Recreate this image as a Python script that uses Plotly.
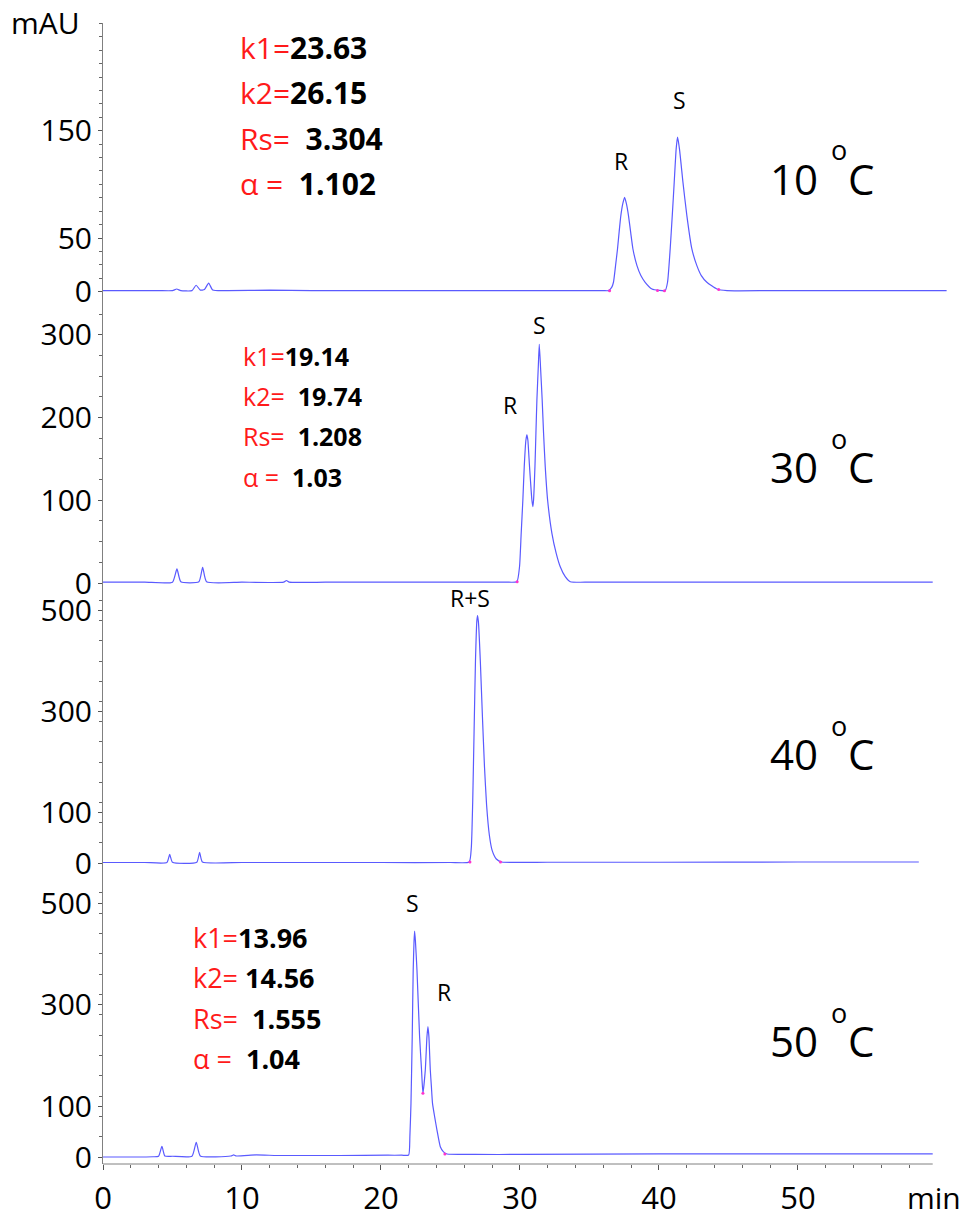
import plotly.graph_objects as go

# ---------------- data (time in min, absorbance in mAU) ----------------
t_10 = [0, 2, 4, 5.0, 5.3, 5.6, 6.4, 6.7, 7.0, 7.3, 7.6, 7.9, 9, 12, 15, 20, 25, 30, 33, 36.0,
        36.37, 36.6, 36.73, 36.88, 37.02, 37.14, 37.26, 37.4, 37.53, 37.66, 37.81, 37.97,
        38.13, 38.42, 38.7, 39.01, 39.5, 40.0,
        40.45, 40.62, 40.81, 40.96, 41.1, 41.24, 41.34, 41.48, 41.73, 42.01, 42.37, 42.73,
        43.05, 43.45, 44.17, 44.9, 48, 52, 56, 60.7]
a_10 = [1, 1, 1, 1, 2.5, 1, 1, 6, 1.5, 2, 8, 1.5, 1, 1.5, 1, 1, 1, 1, 1, 1,
        1, 4, 8.8, 24.3, 39.8, 56, 70.9, 82, 88, 82, 70.9, 55,
        39.8, 24.3, 15, 8.8, 2.5, 1.2,
        1, 8.8, 39.8, 70.9, 101.9, 132.9, 144, 132.9, 101.9, 70.9, 39.8, 24.3,
        15, 8.8, 2.5, 1, 1, 1, 1, 1]

t_30 = [0, 3, 5.0, 5.32, 5.6, 6.9, 7.17, 7.45, 10, 13.0, 13.2, 13.4, 16, 20, 25, 29.0,
        29.78, 29.97, 30.09, 30.21, 30.31, 30.43, 30.50, 30.57, 30.69, 30.86, 30.93, 30.98,
        31.08, 31.15, 31.22, 31.32, 31.39, 31.48, 31.60, 31.70, 31.82, 31.99, 32.30, 32.61,
        32.90, 33.26, 33.62, 35, 40, 45, 50, 55, 59.7]
a_30 = [1, 1, 1, 17, 1.5, 1.5, 19, 1.5, 1, 1, 3, 1, 1, 1, 1, 1,
        1.6, 19.7, 60.1, 100.4, 140.7, 172.9, 179, 172.9, 140.7, 100.4, 92.3, 100.4,
        140.7, 181, 221.3, 261.6, 288.6, 261.6, 221.3, 181, 140.7, 100.4, 60.1, 35.9,
        19.7, 7.7, 1.6, 1, 1, 1, 1, 1, 1]

t_40 = [0, 3, 4.6, 4.8, 5.0, 6.75, 6.95, 7.15, 10, 15, 20, 25, 26.35, 26.5, 26.6, 26.7,
        26.8, 26.9, 26.95, 27.02, 27.15, 27.3, 27.45, 27.6, 27.8, 28.0, 28.3, 28.7, 32, 40,
        50, 58.7]
a_40 = [1, 1, 1, 17, 1.5, 1.5, 21, 2, 1, 1, 1, 1, 2, 30, 120, 260,
        400, 480, 490, 475, 400, 290, 190, 115, 55, 25, 8, 2, 1.5, 1.5,
        2, 2]

t_50 = [0, 2, 3.6, 4.0, 4.24, 4.45, 5.0, 6.4, 6.71, 7.0, 9.2, 9.4, 9.6, 11.0, 12.5, 14, 17,
        20.5, 21.5, 21.99, 22.08, 22.16, 22.25, 22.32, 22.38, 22.42, 22.48, 22.59, 22.78, 22.92,
        23.02, 23.19, 23.31, 23.38, 23.45, 23.55, 23.63, 23.71, 23.87, 24.03, 24.27, 24.5,
        24.75, 26.8, 30, 40, 50, 59.7]
a_50 = [0, 0, 0.5, 1.5, 21, 2, 1.5, 1.5, 29, 2, 2, 4, 2, 4, 3, 3, 3,
        3.5, 3.5, 3.9, 40, 105.6, 236.9, 368.1, 425, 444.9, 425, 368.1, 236.9, 171.3,
        125.3, 171.3, 236.9, 256.6, 236.9, 171.3, 138, 105.6, 78, 53.1, 20.3, 10,
        5.9, 5, 5, 6, 6, 6]

# integration marks (magenta)
mark_t_10 = [36.45, 39.9, 40.4, 44.3]
mark_a_10 = [1, 1.2, 1, 2]
mark_t_30 = [29.8]
mark_a_30 = [1.6]
mark_t_40 = [26.4, 28.6]
mark_a_40 = [2, 2]
mark_t_50 = [23.02, 24.6]
mark_a_50 = [125.3, 6]

temps = ["10", "30", "40", "50"]
y_tickvals = [[0, 50, 150], [0, 100, 200, 300], [0, 100, 300, 500], [0, 100, 300, 500]]
x_tickvals = [0, 10, 20, 30, 40, 50]

stats_10 = [("k1=", "23.63"), ("k2=", "26.15"), ("Rs=\u00a0\u00a0", "3.304"), ("\u03b1\u00a0=\u00a0\u00a0", "1.102")]
stats_30 = [("k1=", "19.14"), ("k2=\u00a0\u00a0", "19.74"), ("Rs=\u00a0\u00a0", "1.208"), ("\u03b1\u00a0=\u00a0\u00a0", "1.03")]
stats_50 = [("k1=", "13.96"), ("k2=\u00a0", "14.56"), ("Rs=\u00a0\u00a0", "1.555"), ("\u03b1\u00a0=\u00a0\u00a0", "1.04")]

# ---------------- layout geometry ----------------
W, H = 966, 1216
ML, MR, MT, MB = 103, 18, 23, 52
PW = W - ML - MR
PH = H - MT - MB
FONT = "Open Sans"
LINE = "#5a5aff"


def fx(px):
    return (px - ML) / PW


def fy(py):
    return 1 - (py - MT) / PH


# (pixel of zero, px per mAU, top px, bottom px, minor step)
geom = [
    (291.7, 1.073, 23, 306, 12.5),
    (583.0, 0.827, 306, 593, 25),
    (863.0, 0.505, 593, 875, 40),
    (1157.0, 0.508, 875, 1164, 40),
]

series = [(t_10, a_10), (t_30, a_30), (t_40, a_40), (t_50, a_50)]
marks = [(mark_t_10, mark_a_10), (mark_t_30, mark_a_30), (mark_t_40, mark_a_40), (mark_t_50, mark_a_50)]

fig = go.Figure()
layout = dict(
    width=W, height=H,
    margin=dict(l=ML, r=MR, t=MT, b=MB, pad=0, autoexpand=False),
    paper_bgcolor="white", plot_bgcolor="white",
    showlegend=False,
    font=dict(family=FONT, color="black"),
)

for i, ((t, a), (mt, ma), (y0, s, top, bot, mstep)) in enumerate(zip(series, marks, geom)):
    yname = "y" if i == 0 else f"y{i+1}"
    fig.add_trace(go.Scatter(x=t, y=a, mode="lines", xaxis="x", yaxis=yname,
                             line=dict(color=LINE, width=1.2, shape="spline", smoothing=0.5),
                             hoverinfo="skip"))
    fig.add_trace(go.Scatter(x=mt, y=ma, mode="markers", xaxis="x", yaxis=yname,
                             marker=dict(color="#ff33cc", size=3), hoverinfo="skip"))
    rmin = (y0 - bot) / s
    rmax = (y0 - top) / s
    minor_vals = []
    v = 0.0
    while v <= rmax:
        minor_vals.append(v)
        v += mstep
    key = "yaxis" if i == 0 else f"yaxis{i+1}"
    layout[key] = dict(
        domain=[fy(bot), fy(top)], range=[rmin, rmax], anchor="x", automargin=False,
        showline=True, linecolor="#808080", linewidth=1,
        showgrid=False, zeroline=False,
        tickmode="array", tickvals=y_tickvals[i], ticktext=[str(v) for v in y_tickvals[i]],
        ticks="outside", ticklen=4, tickcolor="#555555",
        tickfont=dict(family=FONT, size=30, color="black"),
        minor=dict(tickmode="array", tickvals=minor_vals, ticks="outside", ticklen=3,
                   tickcolor="#666666"),
    )

layout["xaxis"] = dict(
    domain=[0, 1], range=[0, 60.8], anchor="y4", automargin=False,
    showline=False, showgrid=False, zeroline=False,
    tickmode="array", tickvals=x_tickvals, ticktext=[str(v) for v in x_tickvals],
    ticks="outside", ticklen=5, tickcolor="#555555",
    tickfont=dict(family=FONT, size=31, color="black"),
    ticklabelstandoff=2,
    minor=dict(tickmode="array", tickvals=[v for v in range(2, 59, 2)], ticks="outside",
               ticklen=3, tickcolor="#666666"),
)
fig.update_layout(**layout)

# bottom axis line (ends at ~59.7 min)
fig.add_shape(type="line", xref="x", yref="paper", x0=0, x1=59.7, y0=0, y1=0,
              line=dict(color="#808080", width=1))

ann = []


def add_text(text, px, py, size, xanchor="center", yanchor="middle", color="black"):
    ann.append(dict(text=text, x=fx(px), y=fy(py), xref="paper", yref="paper",
                    xanchor=xanchor, yanchor=yanchor, showarrow=False,
                    font=dict(family=FONT, size=size, color=color)))


add_text("mAU", 46, 22, 30)
add_text("min", 934, 1197, 30)

# temperature labels
temp_y = [178, 466, 753, 1040]
for lab, ty in zip(temps, temp_y):
    add_text(lab, 794, ty, 42)
    add_text("o", 839, ty - 28, 27)
    add_text("C", 861, ty, 42)

# peak labels
add_text("R", 621, 161, 23)
add_text("S", 679, 100, 23)
add_text("R", 510, 405, 23)
add_text("S", 539, 325, 23)
add_text("R+S", 470, 598, 23)
add_text("S", 412, 903, 23)
add_text("R", 444, 992, 23)


def add_stats(rows, px, ys, size):
    for (lab, val), py in zip(rows, ys):
        add_text(f"<span style='color:#ff1a1a'>{lab}</span><b>{val}</b>", px, py, size,
                 xanchor="left")


add_stats(stats_10, 238, [48, 93, 138, 183], 30)
add_stats(stats_30, 241, [356, 396, 436, 477], 25)
add_stats(stats_50, 191, [937, 977, 1018, 1058], 27)

fig.update_layout(annotations=ann)
fig.write_html("out.html")
